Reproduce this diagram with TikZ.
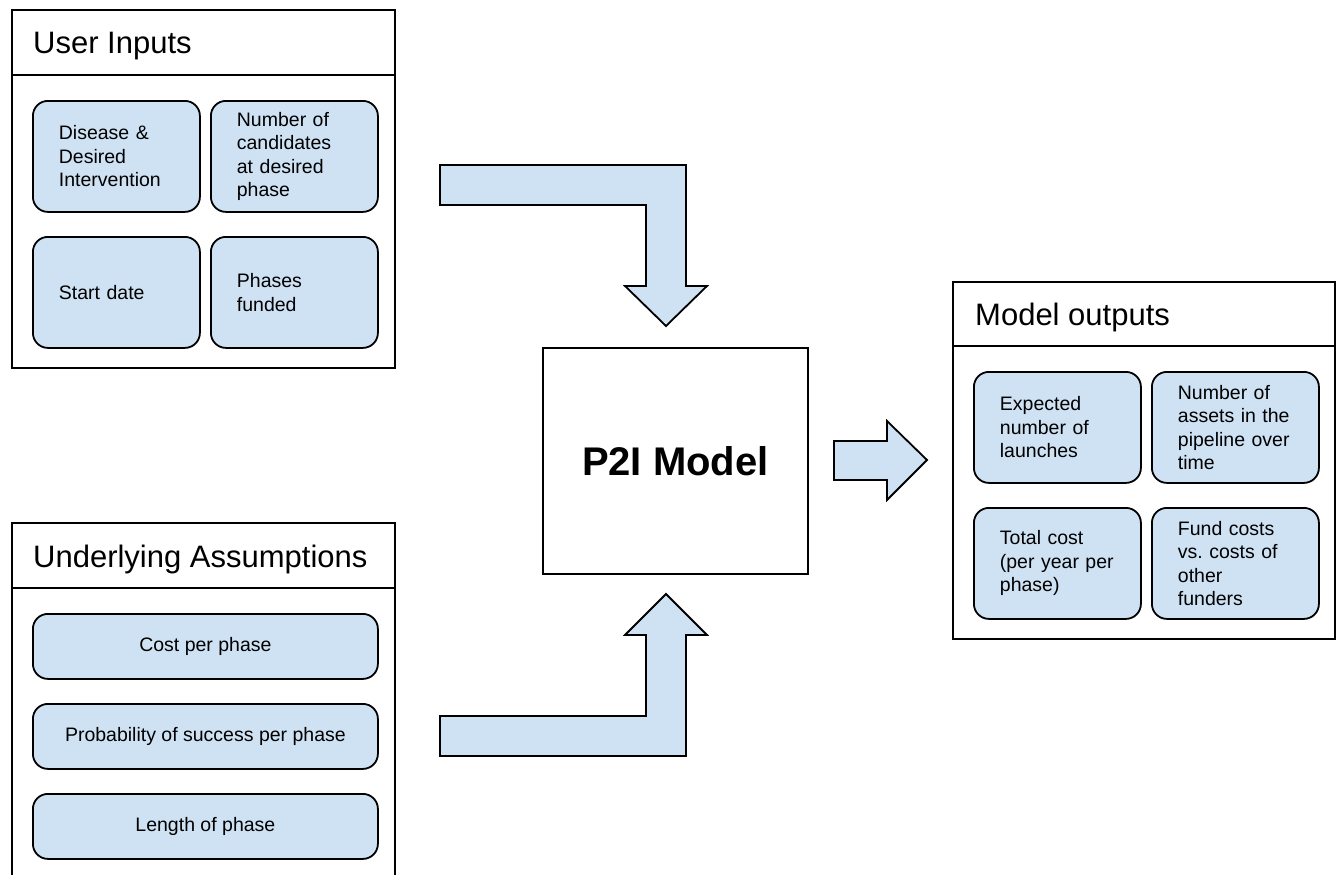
\documentclass[tikz,border=0pt]{standalone}
\usepackage{fontspec}
\setmainfont{Liberation Sans}
\frenchspacing
\definecolor{boxblue}{HTML}{CFE2F3}
\begin{document}
\begin{tikzpicture}[x=1pt,y=-1pt,
  frame/.style={draw=black,line width=1.8pt},
  titletext/.style={anchor=base west,inner sep=0pt,font=\fontsize{31}{36}\selectfont},
  inbox/.style={draw=black,fill=boxblue,line width=1.8pt,rounded corners=15pt,anchor=north west,
    minimum width=167pt,minimum height=111pt,text width=115pt,inner xsep=26pt,inner ysep=0pt,
    align=left,font=\fontsize{19.5}{23.5}\selectfont},
  widebox/.style={draw=black,fill=boxblue,line width=1.8pt,rounded corners=15pt,anchor=north west,
    minimum width=345pt,minimum height=65pt,inner sep=0pt,align=center,
    font=\fontsize{19.5}{23.5}\selectfont},
  blockarrow/.style={draw=black,fill=boxblue,line width=1.8pt,line join=miter}]
\useasboundingbox (0,0) rectangle (1336,875);
\fill[white] (0,0) rectangle (1336,875);

% User Inputs
\draw[frame] (12,10) rectangle (395,368);
\draw[frame] (12,75) -- (395,75);
\node[titletext] (uititle) at (33,54) {User Inputs};
\node[inbox] (disease) at (32,100) {Disease \&\\Desired\\Intervention};
\node[inbox] (number) at (210,100) {Number of\\candidates\\at desired\\phase};
\node[inbox] (start) at (32,236) {Start date};
\node[inbox] (phases) at (210,236) {Phases\\funded};

% Underlying Assumptions
\draw[frame] (12,876) -- (12,523) -- (395,523) -- (395,876);
\draw[frame] (12,588) -- (395,588);
\node[titletext] (uatitle) at (33,567) {Underlying Assumptions};
\node[widebox] (cost) at (32,613) {Cost per phase};
\node[widebox] (prob) at (32,703) {Probability of success per phase};
\node[widebox] (length) at (32,793) {Length of phase};

% P2I Model
\node[draw=black,line width=1.8pt,anchor=north west,minimum width=265pt,minimum height=226pt,
  inner sep=0pt,font=\fontsize{40}{46}\selectfont\bfseries] (model) at (542,347) {P2I Model};

% Model outputs
\draw[frame] (953,282) rectangle (1335,639);
\draw[frame] (953,346) -- (1335,346);
\node[titletext] (motitle) at (975,325) {Model outputs};
\node[inbox] (expected) at (973,371) {Expected\\number of\\launches};
\node[inbox] (assets) at (1151,371) {Number of\\assets in the\\pipeline over\\time};
\node[inbox] (total) at (973,507) {Total cost\\(per year per\\phase)};
\node[inbox] (fund) at (1151,507) {Fund costs\\vs. costs of\\other\\funders};

% Block arrows
\draw[blockarrow] (440,165) -- (686,165) -- (686,286) -- (707,286) -- (666,326) -- (625,286)
  -- (646,286) -- (646,205) -- (440,205) -- cycle;
\draw[blockarrow] (440,756) -- (686,756) -- (686,635) -- (707,635) -- (666,594) -- (625,635)
  -- (646,635) -- (646,716) -- (440,716) -- cycle;
\draw[blockarrow] (834,441) -- (887,441) -- (887,421) -- (927,460) -- (887,500) -- (887,480)
  -- (834,480) -- cycle;
\end{tikzpicture}
\end{document}
